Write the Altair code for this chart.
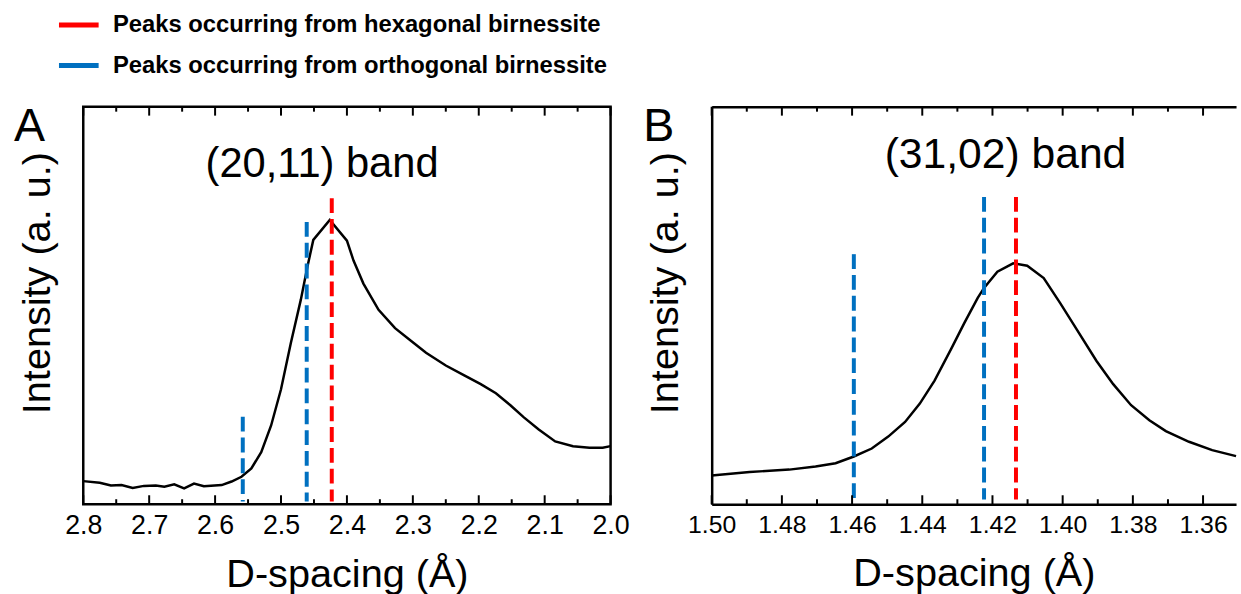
import altair as alt
import pandas as pd

FONT = "Liberation Sans"
H = 401

# ---------------- data ----------------
series_names = ["Peaks occurring from hexagonal birnessite",
                "Peaks occurring from orthogonal birnessite"]
series_colors = ["#FF0000", "#0070C0"]
panel_letters = ["A", "B"]

# Panel A : (20,11) band
a_d = [2.800, 2.775, 2.758, 2.742, 2.725, 2.708, 2.690, 2.677, 2.662, 2.647,
       2.632, 2.617, 2.590, 2.575, 2.560, 2.545, 2.530, 2.515, 2.500, 2.485,
       2.470, 2.460, 2.451, 2.426, 2.400, 2.390, 2.375, 2.352, 2.327, 2.302,
       2.280, 2.250, 2.222, 2.197, 2.174, 2.152, 2.132, 2.109, 2.084, 2.057,
       2.032, 2.012, 2.000]
a_int = [5.8, 5.4, 4.7, 4.8, 4.1, 4.6, 4.7, 4.4, 5.0, 4.0,
         5.2, 4.5, 4.8, 5.7, 6.9, 9.0, 13.1, 19.8, 28.9, 40.6,
         51.4, 59.7, 66.5, 71.5, 66.3, 61.3, 55.5, 48.9, 44.3, 41.0,
         38.1, 34.9, 32.4, 30.2, 27.9, 24.9, 21.9, 18.8, 15.8, 14.6,
         14.2, 14.2, 14.6]
a_peak_d = [2.423, 2.461, 2.558]
a_peak_top = [77.0, 71.0, 22.0]
a_peak_bottom = [0.7, 0.7, 0.7]
a_peak_series = [series_names[0], series_names[1], series_names[1]]
a_major = [2.8, 2.7, 2.6, 2.5, 2.4, 2.3, 2.2, 2.1, 2.0]
a_minor = [2.75, 2.65, 2.55, 2.45, 2.35, 2.25, 2.15, 2.05]
a_label = ["(20,11) band"]
a_label_d = [2.4377]
a_label_int = [82.4]

# Panel B : (31,02) band
b_d = [1.5000, 1.4892, 1.4779, 1.4704, 1.4647, 1.4595, 1.4544, 1.4497, 1.4449,
       1.4407, 1.4365, 1.4318, 1.4280, 1.4242, 1.4224, 1.4186, 1.4141, 1.4101,
       1.4054, 1.4007, 1.3960, 1.3904, 1.3856, 1.3805, 1.3753, 1.3706, 1.3640,
       1.3574, 1.3506]
b_int = [7.2, 8.1, 8.7, 9.5, 10.3, 12.0, 14.0, 17.0, 20.7,
         25.3, 31.1, 39.0, 45.6, 51.9, 54.4, 58.5, 60.6, 60.0,
         56.9, 50.6, 44.0, 36.1, 30.2, 24.9, 21.1, 18.4, 15.7,
         13.6, 12.1]
b_peak_d = [1.4133, 1.4224, 1.4595]
b_peak_top = [77.3, 77.3, 62.9]
b_peak_bottom = [1.2, 1.2, 0.7]
b_peak_series = [series_names[0], series_names[1], series_names[1]]
b_major = [1.50, 1.48, 1.46, 1.44, 1.42, 1.40, 1.38, 1.36]
b_minor = [1.49, 1.47, 1.45, 1.43, 1.41, 1.39, 1.37]
b_label = ["(31,02) band"]
b_label_d = [1.4163]
b_label_int = [84.5]

# ---------------- chart ----------------
Y_MAX = 100
MAJOR_LEN = 9 * Y_MAX / H    # tick length (9 px) in intensity units
MINOR_LEN = 5 * Y_MAX / H    # tick length (5 px) in intensity units

color_scale = alt.Scale(domain=series_names, range=series_colors)
legend = alt.Legend(title=None, orient="none", legendX=-27, legendY=-105,
                    symbolType="stroke", symbolSize=1600, symbolStrokeWidth=5,
                    symbolDash=[40, 0],
                    labelFont=FONT, labelFontSize=24, labelFontWeight="bold",
                    labelColor="black", labelLimit=0, labelOffset=12,
                    rowPadding=6, padding=0)


def panel(d, inten, pk_d, pk_top, pk_bot, pk_ser, major, minor, fmt,
          dom, width, lab, lab_d, lab_int, letter, letter_dx,
          label_size, band_size, border):
    df = pd.DataFrame({"d": d, "i": inten})
    pk = pd.DataFrame({"d": pk_d, "top": pk_top, "bot": pk_bot, "s": pk_ser})
    tx = pd.DataFrame({"d": lab_d, "i": lab_int, "t": lab})
    # inward tick marks (bottom and top edge), built from the tick lists
    rows = []
    for v in major:
        rows.append({"d": v, "y0": 0, "y1": MAJOR_LEN})
        rows.append({"d": v, "y0": Y_MAX - MAJOR_LEN, "y1": Y_MAX})
    for v in minor:
        rows.append({"d": v, "y0": 0, "y1": MINOR_LEN})
        rows.append({"d": v, "y0": Y_MAX - MINOR_LEN, "y1": Y_MAX})
    tk = pd.DataFrame(rows)
    let = pd.DataFrame({"t": [letter]})

    xscale = alt.Scale(domain=dom, reverse=True, nice=False, zero=False)
    yscale = alt.Scale(domain=[0, Y_MAX], nice=False, zero=False)

    xaxis = alt.Axis(values=major, grid=False, ticks=False,
                     domain=not border, domainColor="black", domainWidth=2.5,
                     format=fmt, labelFont=FONT, labelFontSize=label_size,
                     labelColor="black", labelPadding=9,
                     labelFlush=False, labelOverlap=False,
                     title="D-spacing (Å)", titleFont=FONT,
                     titleFontSize=40, titleFontWeight="normal",
                     titleColor="black", titlePadding=16)
    common_y = dict(title="Intensity (a. u.)", labels=False, ticks=False,
                    titleFont=FONT, titleFontSize=40, titleFontWeight="normal",
                    titleColor="black", titlePadding=26, titleY=H / 2 - 23)
    if border:
        yaxis = alt.Axis(grid=False, domain=False, **common_y)
    else:
        yaxis = alt.Axis(values=[Y_MAX], grid=True, gridColor="black",
                         gridWidth=2.5, gridOpacity=1, domain=True,
                         domainColor="black", domainWidth=2.5, **common_y)

    line = alt.Chart(df).mark_line(color="black", strokeWidth=2.5).encode(
        x=alt.X("d:Q", scale=xscale, axis=xaxis),
        y=alt.Y("i:Q", scale=yscale, axis=yaxis),
    )
    rules = alt.Chart(pk).mark_rule(strokeWidth=4, strokeDash=[15, 6]).encode(
        x="d:Q",
        y="top:Q",
        y2="bot:Q",
        color=alt.Color("s:N", scale=color_scale, legend=legend),
    )
    text = alt.Chart(tx).mark_text(font=FONT, fontSize=band_size,
                                   color="black", baseline="alphabetic",
                                   align="center").encode(
        x="d:Q", y="i:Q", text="t:N")
    ticks = alt.Chart(tk).mark_rule(color="black", strokeWidth=2).encode(
        x="d:Q", y="y0:Q", y2="y1:Q")

    letter_mark = alt.Chart(let).mark_text(
        font=FONT, fontSize=47, color="black", align="left",
        baseline="alphabetic").encode(
        x=alt.value(letter_dx), y=alt.value(35), text="t:N")

    props = dict(width=width, height=H)
    if border:
        props["view"] = alt.ViewBackground(stroke="black", strokeWidth=2.5)
    return alt.layer(line, rules, text, ticks, letter_mark).properties(**props)


pa = panel(a_d, a_int, a_peak_d, a_peak_top, a_peak_bottom, a_peak_series,
           a_major, a_minor, ".1f", [2.0, 2.8], 532, a_label, a_label_d,
           a_label_int, panel_letters[0], -70, 27, 42, True)
pb = panel(b_d, b_int, b_peak_d, b_peak_top, b_peak_bottom, b_peak_series,
           b_major, b_minor, ".2f", [1.3506, 1.50], 529, b_label, b_label_d,
           b_label_int, panel_letters[1], -69, 25, 43, False)

chart = alt.hconcat(pa, pb, spacing=12).resolve_scale(
    color="shared").resolve_legend(color="shared").configure_view(
    stroke=None).properties(
    padding={"left": 12, "top": 0, "right": 0, "bottom": 0},
    background="white")

chart.save("out.html", embed_options={"renderer": "svg", "actions": False})
